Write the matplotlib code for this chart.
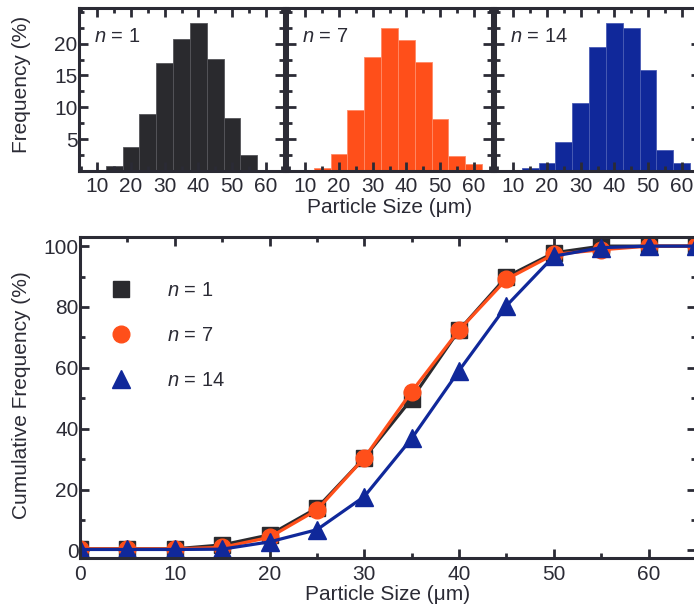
import numpy as np
import matplotlib
matplotlib.use("Agg")
import matplotlib.pyplot as plt
from matplotlib.lines import Line2D
from matplotlib.ticker import MultipleLocator

plt.rcParams["font.family"] = ["Liberation Sans", "DejaVu Sans"]
plt.rcParams["mathtext.fontset"] = "custom"
plt.rcParams["mathtext.it"] = "Liberation Sans:italic"
plt.rcParams["mathtext.rm"] = "Liberation Sans"

TXT = "#2b2b35"
C_N1 = "#2a2a2e"
C_N7 = "#ff4f1a"
C_N14 = "#10289a"
FS = 15

# histogram bins (centre of 5 um classes) and frequency (%)
bin_centres = [10, 15, 20, 25, 30, 35, 40, 45, 50, 55, 60]
freq_n1 = [0.0, 0.8, 3.7, 8.9, 17.0, 20.8, 23.2, 17.6, 8.3, 2.5, 0.0]
freq_n7 = [0.2, 0.4, 2.7, 9.6, 17.9, 22.4, 20.5, 17.1, 8.1, 2.3, 1.1]
freq_n14 = [0.0, 0.5, 1.3, 4.6, 10.7, 19.5, 23.2, 22.5, 15.8, 3.3, 1.2]

# cumulative frequency (%) vs particle size
sizes = [0, 5, 10, 15, 20, 25, 30, 35, 40, 45, 50, 55, 60, 65]
cum_n1 = [0.5, 0.5, 0.5, 1.8, 5.1, 13.9, 30.4, 49.8, 72.4, 89.9, 97.8, 100, 100, 100]
cum_n7 = [0.5, 0.5, 0.5, 1.0, 4.3, 13.3, 30.4, 52.2, 72.4, 89.1, 97.3, 98.8, 100, 100]
cum_n14 = [0.3, 0.3, 0.3, 0.4, 2.8, 6.8, 17.7, 36.8, 59.1, 80.4, 96.7, 99.5, 100, 100]

labels = ["$n$ = 1", "$n$ = 7", "$n$ = 14"]
colors = [C_N1, C_N7, C_N14]
edge_tints = ["#55555a", "#ff8a66", "#4a5cb5"]

W, H = 694, 605
fig = plt.figure(figsize=(W / 100, H / 100), dpi=100)
fig.patch.set_facecolor("white")


def style(ax, pad=1.0):
    for s in ax.spines.values():
        s.set_linewidth(2.2)
        s.set_color(TXT)
    ax.tick_params(which="both", direction="in", top=True, right=True,
                   colors=TXT, labelsize=FS, pad=pad)
    ax.tick_params(which="major", length=6.5, width=2.0)
    ax.tick_params(which="minor", length=3.8, width=2.0)


def frac(x0, y0, x1, y1):
    return [x0 / W, 1 - y1 / H, (x1 - x0) / W, (y1 - y0) / H]


# ── top row: histograms ─────────────────────────────────────────────
tops = [(79, 284), (287, 492), (495, 700)]
freqs = [freq_n1, freq_n7, freq_n14]
hist_axes = []
for i, ((x0, x1), f, c, ec, lbl) in enumerate(zip(tops, freqs, colors,
                                                   edge_tints, labels)):
    ax = fig.add_axes(frac(x0, 8, x1, 171))
    ax.bar(bin_centres, f, width=5, color=c, edgecolor=ec, linewidth=0.6)
    ax.set_xlim(4.5, 65.5)
    ax.set_ylim(0, 25.6)
    ax.xaxis.set_major_locator(MultipleLocator(10))
    ax.xaxis.set_minor_locator(MultipleLocator(5))
    ax.yaxis.set_major_locator(MultipleLocator(5))
    ax.yaxis.set_minor_locator(MultipleLocator(2.5))
    style(ax)
    ax.tick_params(axis="x", pad=4)
    ax.set_yticks([5, 10, 15, 20])
    if i > 0:
        ax.tick_params(labelleft=False)
    ax.text(15 / (x1 - x0), 0.79, lbl, transform=ax.transAxes,
            fontsize=14.5, color=TXT, va="baseline", ha="left")
    hist_axes.append(ax)

hist_axes[1].set_xlabel("Particle Size (\u03bcm)", fontsize=FS,
                        color=TXT, labelpad=2)
fig.text(22 / W, 1 - 84 / H, "Frequency (%)", rotation=90, fontsize=FS,
         color=TXT, ha="center", va="center")

# ── bottom: cumulative curves ───────────────────────────────────────
axb = fig.add_axes(frac(80, 237, 696, 558))
markers = ["s", "o", "^"]
msizes = [11.5, 12, 13.5]
for cum, c, m, ms in zip([cum_n1, cum_n7, cum_n14], colors, markers, msizes):
    axb.plot(sizes, cum, color=c, lw=2.3, marker=m, ms=ms,
             markeredgecolor=c)
axb.set_xlim(0, 65)
axb.set_ylim(-2.5, 103)
axb.xaxis.set_major_locator(MultipleLocator(10))
axb.xaxis.set_minor_locator(MultipleLocator(5))
axb.yaxis.set_major_locator(MultipleLocator(20))
axb.yaxis.set_minor_locator(MultipleLocator(10))
style(axb)
axb.tick_params(axis="x", pad=5)
axb.set_xlabel("Particle Size (\u03bcm)", fontsize=FS, color=TXT, labelpad=1)
fig.text(22 / W, 1 - 395 / H, "Cumulative Frequency (%)", rotation=90,
         fontsize=FS, color=TXT, ha="center", va="center")

handles = [Line2D([], [], ls="none", marker=m, ms=ms, color=c)
           for m, ms, c in zip(markers, msizes, colors)]
axb.legend(handles, labels, loc="upper left", bbox_to_anchor=(0.02, 0.918),
           frameon=False, fontsize=14.5, labelspacing=1.28, handlelength=1.0,
           handletextpad=1.8, labelcolor=TXT)

fig.savefig("out.png", dpi=100, facecolor="white")
